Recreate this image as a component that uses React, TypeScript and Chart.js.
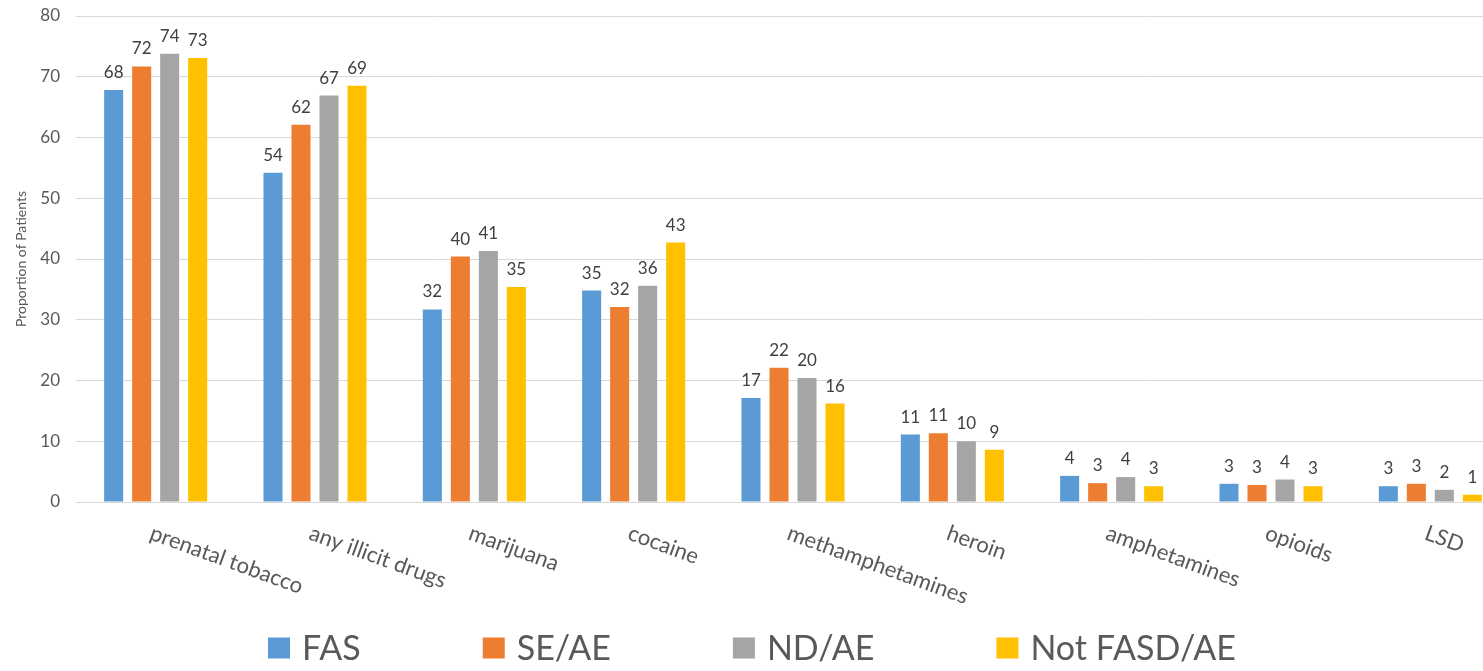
import React, { useEffect, useRef } from "react";
import { Chart, registerables } from "chart.js";

Chart.register(...registerables);

const categories = [
  "prenatal tobacco",
  "any illicit drugs",
  "marijuana",
  "cocaine",
  "methamphetamines",
  "heroin",
  "amphetamines",
  "opioids",
  "LSD",
];

const seriesNames = ["FAS", "SE/AE", "ND/AE", "Not FASD/AE"];
const seriesColors = ["#5B9BD5", "#ED7D31", "#A5A5A5", "#FFC000"];

const fasValues = [67.8, 54.2, 31.7, 34.8, 17.1, 11.1, 4.3, 3.0, 2.6];
const seAeValues = [71.7, 62.1, 40.4, 32.1, 22.1, 11.3, 3.1, 2.8, 3.0];
const ndAeValues = [73.8, 66.9, 41.3, 35.6, 20.4, 10.0, 4.1, 3.7, 2.0];
const notFasdValues = [73.1, 68.5, 35.4, 42.7, 16.2, 8.6, 2.6, 2.6, 1.2];

const yTicks = [0, 10, 20, 30, 40, 50, 60, 70, 80];
const yTitle = "Proportion of Patients";

const FONT = "Lato, 'Open Sans', sans-serif";
const TEXT = "#595959";

// Value labels above each bar
const valueLabels = {
  id: "valueLabels",
  afterDatasetsDraw(chart: any) {
    const ctx = chart.ctx;
    ctx.save();
    ctx.font = `17px ${FONT}`;
    ctx.fillStyle = "#404040";
    ctx.textAlign = "center";
    ctx.textBaseline = "alphabetic";
    chart.data.datasets.forEach((ds: any, di: number) => {
      const meta = chart.getDatasetMeta(di);
      meta.data.forEach((bar: any, i: number) => {
        ctx.fillText(String(Math.round(ds.data[i])), bar.x, bar.y - 12);
      });
    });
    ctx.restore();
  },
};

// Slanted category labels under the axis
const slantedLabels = {
  id: "slantedLabels",
  afterDraw(chart: any) {
    const ctx = chart.ctx;
    const xs = chart.scales.x;
    const base = chart.chartArea.bottom;
    ctx.save();
    ctx.font = `22px ${FONT}`;
    ctx.fillStyle = TEXT;
    ctx.textAlign = "left";
    ctx.textBaseline = "top";
    chart.data.labels.forEach((lab: string, i: number) => {
      const x = xs.getPixelForValue(i);
      ctx.save();
      ctx.translate(x - 1, base + 20);
      ctx.rotate((20 * Math.PI) / 180);
      ctx.fillText(lab, 0, 0);
      ctx.restore();
    });
    ctx.restore();
  },
};

// Legend row along the bottom
const bottomLegend = {
  id: "bottomLegend",
  afterDraw(chart: any) {
    const ctx = chart.ctx;
    ctx.save();
    ctx.font = `34px ${FONT}`;
    ctx.textBaseline = "middle";
    ctx.textAlign = "left";
    const boxW = 22;
    const boxH = 21;
    const gapText = 12;
    const gapItem = 122;
    const items = chart.data.datasets.map((ds: any) => ({
      label: ds.label,
      color: ds.backgroundColor,
      w: boxW + gapText + ctx.measureText(ds.label).width,
    }));
    const total =
      items.reduce((s: number, it: any) => s + it.w, 0) + gapItem * (items.length - 1);
    let x = 752 - total / 2;
    const cy = 648;
    items.forEach((it: any) => {
      ctx.fillStyle = it.color;
      ctx.fillRect(x, cy - boxH / 2, boxW, boxH);
      ctx.fillStyle = TEXT;
      ctx.fillText(it.label, x + boxW + gapText, cy + 1);
      x += it.w + gapItem;
    });
    ctx.restore();
  },
};

export default function App() {
  const canvasRef = useRef<HTMLCanvasElement | null>(null);

  useEffect(() => {
    if (!canvasRef.current) return;
    const seriesValues = [fasValues, seAeValues, ndAeValues, notFasdValues];
    const chart = new Chart(canvasRef.current, {
      type: "bar",
      data: {
        labels: categories,
        datasets: seriesNames.map((name, k) => ({
          label: name,
          data: seriesValues[k],
          backgroundColor: seriesColors[k],
          borderWidth: 0,
          categoryPercentage: 0.703,
          barPercentage: 0.68,
        })),
      },
      options: {
        responsive: false,
        animation: false,
        layout: { padding: { top: 16, right: 10, bottom: 169, left: 0 } },
        scales: {
          x: {
            ticks: { display: false },
            grid: { display: false },
            border: { display: false },
            afterFit: (s: any) => {
              s.height = 0;
            },
          },
          y: {
            min: 0,
            max: 80,
            afterBuildTicks: (s: any) => {
              s.ticks = yTicks.map((v) => ({ value: v }));
            },
            ticks: {
              color: TEXT,
              font: { family: FONT, size: 17 },
              padding: 16,
            },
            grid: { color: "#d9d9d9", drawTicks: false, lineWidth: 1 },
            border: { display: false },
            title: {
              display: true,
              text: yTitle,
              color: TEXT,
              font: { family: FONT, size: 14 },
              padding: { top: 13, bottom: 0 },
            },
            afterFit: (s: any) => {
              s.width = 76;
              s.paddingTop = 6;
              s.paddingBottom = 6;
            },
          },
        },
        plugins: {
          legend: { display: false },
          tooltip: { enabled: false },
        },
      },
      plugins: [valueLabels, slantedLabels, bottomLegend],
    });
    return () => chart.destroy();
  }, []);

  return (
    <div
      style={{
        position: "absolute",
        left: 0,
        top: 0,
        width: 1483,
        height: 671,
        overflow: "hidden",
        background: "#ffffff",
      }}
    >
      <canvas ref={canvasRef} width={1520} height={671} style={{ display: "block" }} />
    </div>
  );
}
